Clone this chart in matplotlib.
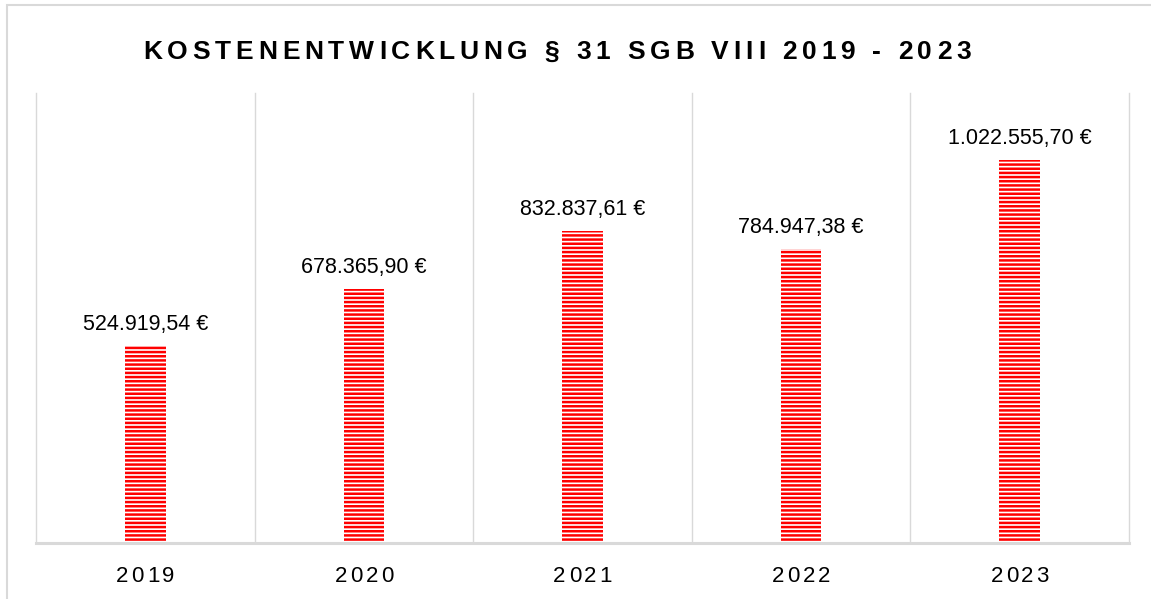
import matplotlib
matplotlib.use("Agg")
import matplotlib.pyplot as plt
import matplotlib.transforms as mtransforms
from matplotlib.font_manager import FontProperties
from matplotlib.textpath import TextToPath
from matplotlib.patches import Rectangle

# data
years = ["2019", "2020", "2021", "2022", "2023"]
costs = [524919.54, 678365.90, 832837.61, 784947.38, 1022555.70]
title = "KOSTENENTWICKLUNG § 31 SGB VIII 2019 - 2023"

GRID = "#d9d9d9"
RED = "#ff0000"
DPI = 100

plt.rcParams["hatch.linewidth"] = 1.8

fig = plt.figure(figsize=(11.51, 5.99), dpi=DPI)
ax = fig.add_axes([36 / 1151, 56 / 599, 1093 / 1151, 450 / 599])

_t2p = TextToPath()


def spaced_text(x, y, s, transform, size, gap_px, weight="normal", family="Liberation Sans"):
	"""draw text with extra letter spacing, centred on x"""
	prop = FontProperties(family=family, size=size, weight=weight)
	widths = [_t2p.get_text_width_height_descent(c, prop, ismath=False)[0] * DPI / 72 for c in s]
	total = sum(widths) + gap_px * (len(s) - 1)
	pos = -total / 2
	for c, w in zip(s, widths):
		tr = mtransforms.offset_copy(transform, fig=fig, x=pos, y=0, units="dots")
		fig.text(x, y, c, transform=tr, fontproperties=prop, ha="left", va="baseline", color="black")
		pos += w + gap_px


xs = list(range(len(years)))
bars = ax.bar(xs, costs, width=0.185, facecolor="white", edgecolor=RED,
			  hatch="----", linewidth=0, zorder=3)

for x, v in zip(xs, costs):
	lbl = f"{v:,.2f}".replace(",", "X").replace(".", ",").replace("X", ".") + " €"
	ax.annotate(lbl, (x, v), xytext=(0, 11), textcoords="offset pixels",
				ha="center", va="bottom", fontsize=15.5, family="Liberation Sans")

ax.set_xlim(-0.5, len(years) - 0.5)
ax.set_ylim(0, 1.2e6)
for b in [i - 0.5 for i in range(len(years) + 1)]:
	ax.axvline(b, color=GRID, lw=1, zorder=1, clip_on=False)

for side in ["top", "left", "right"]:
	ax.spines[side].set_visible(False)
ax.spines["bottom"].set_color(GRID)
ax.spines["bottom"].set_linewidth(2.2)
ax.spines["bottom"].set_zorder(4)
ax.set_xticks([])
ax.set_yticks([])

# category labels with letter spacing
lab_tr = mtransforms.blended_transform_factory(ax.transData, fig.transFigure)
for x, y in zip(xs, years):
	spaced_text(x, 1 - 582 / 599, y, lab_tr, 16, 3)

# title
spaced_text(557 / 1151, 1 - 59 / 599, title, fig.transFigure, 19, 4.8, weight="bold")

# chart border
fig.patches.append(Rectangle((7 / 1151, -0.2), 1.5, 1.2 - 5 / 599, transform=fig.transFigure,
							 fill=False, edgecolor=GRID, linewidth=1.5))

fig.savefig("out.png", dpi=DPI)
